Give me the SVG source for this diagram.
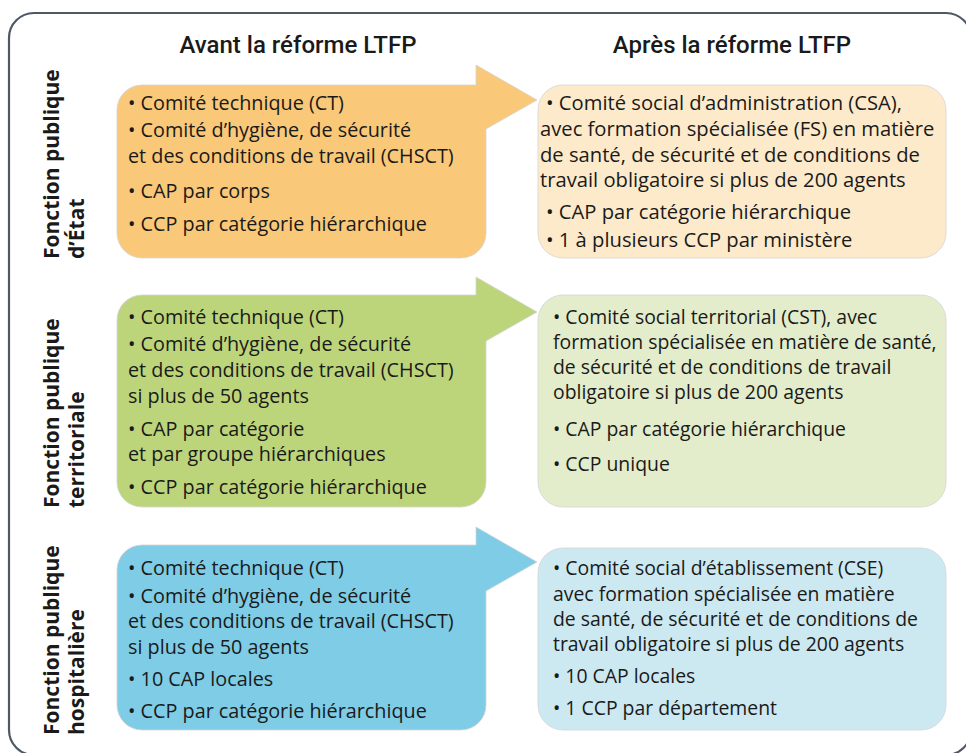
<svg xmlns="http://www.w3.org/2000/svg" width="966" height="753" viewBox="0 0 966 753">
<style>
.frame{fill:#ffffff;stroke:#4f5966;stroke-width:2.2}
.hdr{font-family:Roboto,"Liberation Sans",sans-serif;font-weight:500;font-size:24px;fill:#1a1a1a;text-anchor:middle}
.lbl{font-family:"Open Sans","Liberation Sans",sans-serif;font-weight:700;font-size:21px;fill:#1a1a1a}
.t{font-family:"Open Sans","Liberation Sans",sans-serif;font-size:19.8px;fill:#1a1a1a}
.tr{font-size:19.4px}
.tb{font-size:20.2px}
.box{stroke:#d4d4d4;stroke-width:0.8}
.o1{fill:#f9c878}.o2{fill:#fdeacb}
.g1{fill:#bdd57a}.g2{fill:#e3edcb}
.b1{fill:#7ecce5}.b2{fill:#cce8f1}
</style>
<rect class="frame" x="9" y="13" width="962" height="742" rx="25"/>
<g id="headers">
<text class="hdr" x="298" y="53">Avant la réforme LTFP</text>
<text class="hdr" x="732" y="53">Après la réforme LTFP</text>
</g>
<g id="labels">
<text class="lbl" transform="translate(59,259) rotate(-90)"><tspan x="0" y="0">Fonction publique</tspan><tspan x="0" y="25">d’État</tspan></text>
<text class="lbl" transform="translate(59,508) rotate(-90)"><tspan x="0" y="0">Fonction publique</tspan><tspan x="0" y="25">territoriale</tspan></text>
<text class="lbl" transform="translate(59,735) rotate(-90)"><tspan x="0" y="0">Fonction publique</tspan><tspan x="0" y="25">hospitalière</tspan></text>
</g>
<g id="connectors"></g>
<g id="etat-avant">
<path class="box o1" d="M142,85 H476 V65 L537,100 L486,129 V233 A25,25 0 0 1 461,258 H142 A25,25 0 0 1 117,233 V110 A25,25 0 0 1 142,85 Z"/>
<text class="t"><tspan x="128" y="110">• Comité technique (CT)</tspan><tspan x="128" y="137">• Comité d’hygiène, de sécurité</tspan><tspan x="128" y="163">et des conditions de travail (CHSCT)</tspan><tspan x="128" y="198">• CAP par corps</tspan><tspan x="128" y="231">• CCP par catégorie hiérarchique</tspan></text>
</g>
<g id="etat-apres">
<rect class="box o2" x="538" y="85" width="408" height="173" rx="25"/>
<text class="t tb"><tspan x="546" y="110">• Comité social d’administration (CSA),</tspan><tspan x="540" y="136">avec formation spécialisée (FS) en matière</tspan><tspan x="540" y="161.5">de santé, de sécurité et de conditions de</tspan><tspan x="540" y="187">travail obligatoire si plus de 200 agents</tspan><tspan x="546" y="219">• CAP par catégorie hiérarchique</tspan><tspan x="546" y="247">• 1 à plusieurs CCP par ministère</tspan></text>
</g>
<g id="territoriale-avant">
<path class="box g1" d="M142,295 H476 V277 L537,312 L486,341 V482 A25,25 0 0 1 461,507 H142 A25,25 0 0 1 117,482 V320 A25,25 0 0 1 142,295 Z"/>
<text class="t"><tspan x="128" y="324">• Comité technique (CT)</tspan><tspan x="128" y="351">• Comité d’hygiène, de sécurité</tspan><tspan x="128" y="377">et des conditions de travail (CHSCT)</tspan><tspan x="128" y="403">si plus de 50 agents</tspan><tspan x="128" y="436">• CAP par catégorie</tspan><tspan x="128" y="461">et par groupe hiérarchiques</tspan><tspan x="128" y="494">• CCP par catégorie hiérarchique</tspan></text>
</g>
<g id="territoriale-apres">
<rect class="box g2" x="538" y="295" width="408" height="212" rx="25"/>
<text class="t tr"><tspan x="553" y="324">• Comité social territorial (CST), avec</tspan><tspan x="553" y="349">formation spécialisée en matière de santé,</tspan><tspan x="553" y="374">de sécurité et de conditions de travail</tspan><tspan x="553" y="399">obligatoire si plus de 200 agents</tspan><tspan x="553" y="436">• CAP par catégorie hiérarchique</tspan><tspan x="553" y="471">• CCP unique</tspan></text>
</g>
<g id="hospitaliere-avant">
<path class="box b1" d="M142,545 H476 V527 L537,562 L486,591 V705 A25,25 0 0 1 461,730 H142 A25,25 0 0 1 117,705 V570 A25,25 0 0 1 142,545 Z"/>
<text class="t"><tspan x="128" y="575">• Comité technique (CT)</tspan><tspan x="128" y="603">• Comité d’hygiène, de sécurité</tspan><tspan x="128" y="628">et des conditions de travail (CHSCT)</tspan><tspan x="128" y="654">si plus de 50 agents</tspan><tspan x="128" y="686">• 10 CAP locales</tspan><tspan x="128" y="718">• CCP par catégorie hiérarchique</tspan></text>
</g>
<g id="hospitaliere-apres">
<rect class="box b2" x="538" y="548" width="408" height="182" rx="25"/>
<text class="t tr"><tspan x="553" y="575">• Comité social d’établissement (CSE)</tspan><tspan x="553" y="601">avec formation spécialisée en matière</tspan><tspan x="553" y="626">de santé, de sécurité et de conditions de</tspan><tspan x="553" y="651">travail obligatoire si plus de 200 agents</tspan><tspan x="553" y="683">• 10 CAP locales</tspan><tspan x="553" y="715">• 1 CCP par département</tspan></text>
</g>
</svg>
